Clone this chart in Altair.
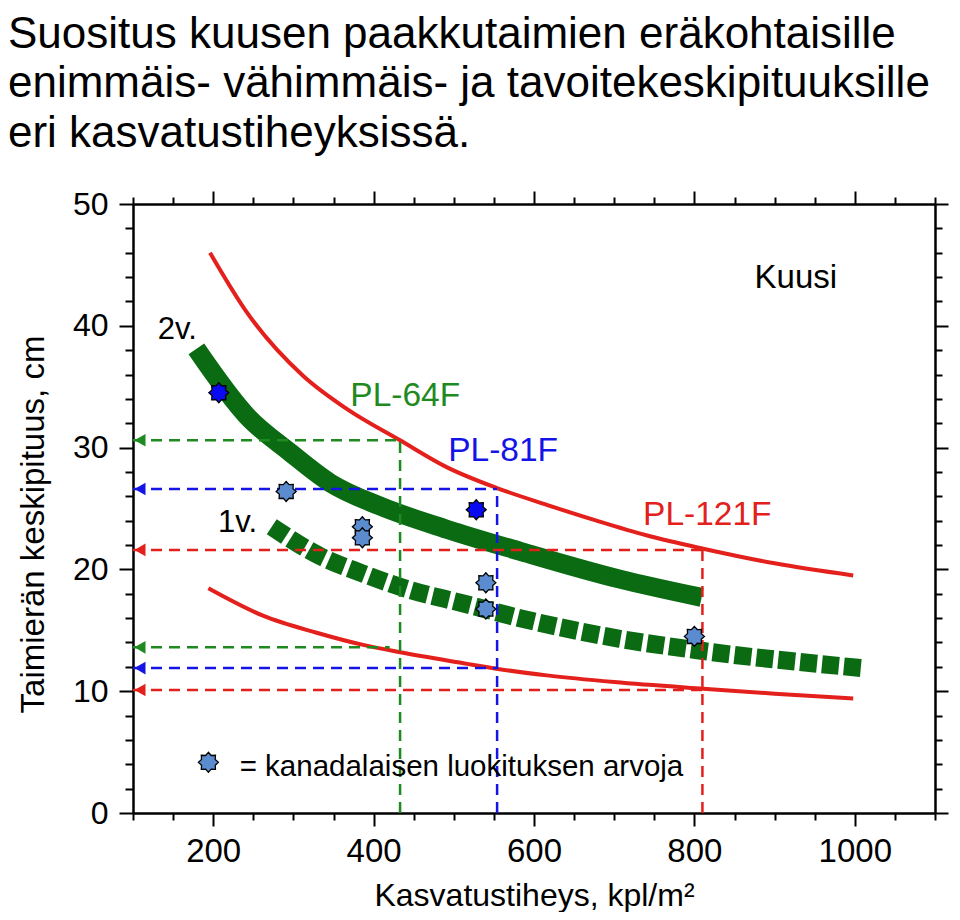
import math
import altair as alt
import pandas as pd

# ---------------- data ----------------
title_lines = [
    "Suositus kuusen paakkutaimien eräkohtaisille",
    "enimmäis- vähimmäis- ja tavoitekeskipituuksille",
    "eri kasvatustiheyksissä.",
]

# red limit curves (max / min)
upper_x = [196, 242, 312, 366, 433, 491, 553, 616, 678, 740, 811, 900, 998]
upper_y = [46.0, 41.1, 35.9, 33.2, 30.6, 28.4, 26.7, 25.3, 24.0, 22.8, 21.7, 20.5, 19.5]
lower_x = [194, 262, 329, 387, 433, 512, 553, 616, 700, 811, 900, 998]
lower_y = [18.45, 16.2, 14.8, 13.8, 13.2, 12.3, 11.85, 11.3, 10.75, 10.2, 9.8, 9.4]

# green target bands: 2-year (solid) and 1-year (dashed)
band2_x = [179, 242, 296, 346, 408, 491, 582, 707, 809]
band2_y = [38.1, 32.6, 29.6, 27.1, 25.2, 23.3, 21.5, 19.2, 17.7]
band1_x = [273, 333, 385, 441, 512, 595, 707, 811, 1009]
band1_y = [23.5, 21.1, 19.7, 18.4, 17.2, 15.8, 14.3, 13.3, 11.9]

# tray types with their densities and max / min heights
ref_names = ["PL-64F", "PL-81F", "PL-121F"]
ref_density = [433, 554, 810]
ref_max = [30.6, 26.6, 21.6]
ref_min = [13.6, 11.9, 10.1]
ref_min_end = [420, 554, 810]
ref_label_x = [371, 493, 736]
ref_label_y = [33.4, 28.9, 23.65]

# Canadian classification values
pt_x = [207, 528, 291, 386, 386, 540, 540, 800]
pt_y = [34.5, 24.9, 26.4, 23.5, 22.6, 18.9, 16.75, 14.5]
pt_kind = ["a", "a", "b", "b", "b", "b", "b", "b"]

# legend entry inside plot
legend_pt_x = [194]
legend_pt_y = [4.16]
legend_text = ["= kanadalaisen luokituksen arvoja"]
legend_text_x = [233]
legend_text_y = [3.06]

# other annotations
note_text = ["2v.", "1v."]
note_x = [131, 206]
note_y = [38.9, 23.1]
kuusi_text = ["Kuusi"]
kuusi_x = [875]
kuusi_y = [43.1]

x_ticks = list(range(100, 1101, 50))
y_ticks = list(range(0, 51, 2))

x_title = "Kasvatustiheys, kpl/m²"
y_title = "Taimierän keskipituus, cm"

# ---------------- tables ----------------
curves = pd.DataFrame(
    [{"curve": "upper", "x": a, "y": b} for a, b in zip(upper_x, upper_y)]
    + [{"curve": "lower", "x": a, "y": b} for a, b in zip(lower_x, lower_y)]
)
band2 = pd.DataFrame({"x": band2_x, "y": band2_y})
band1 = pd.DataFrame({"x": band1_x, "y": band1_y})

refs = pd.DataFrame({
    "name": ref_names, "dens": ref_density, "ymax": ref_max, "ymin": ref_min,
    "minend": ref_min_end, "lx": ref_label_x, "ly": ref_label_y,
})
refs["zero"] = 0

horiz = pd.concat([
    pd.DataFrame({"name": ref_names, "y": ref_max, "xend": ref_density}),
    pd.DataFrame({"name": ref_names, "y": ref_min, "xend": ref_min_end}),
], ignore_index=True)
horiz["left"] = x_ticks[0]

points = pd.DataFrame({"x": pt_x, "y": pt_y, "kind": pt_kind})
legend_pt = pd.DataFrame({"x": legend_pt_x, "y": legend_pt_y, "kind": ["b"]})
legend_lbl = pd.DataFrame({"x": legend_text_x, "y": legend_text_y, "t": legend_text})
notes = pd.DataFrame({"x": note_x, "y": note_y, "t": note_text})
kuusi = pd.DataFrame({"x": kuusi_x, "y": kuusi_y, "t": kuusi_text})

# ---------------- style ----------------
FONT = "Liberation Sans"
RED = "#e3201b"
GREEN = "#0b6b12"
ref_colors = ["#1f8a1f", "#1414e6", "#e3201b"]
ref_scale = alt.Scale(domain=ref_names, range=ref_colors)

xs = alt.Scale(domain=[100, 1100], nice=False, zero=False)
ys = alt.Scale(domain=[0, 50], nice=False, zero=False)

# 8-pointed star path in unit coordinates
pts = []
for i in range(16):
    r = 1.0 if i % 2 == 0 else 0.74
    a = math.pi / 2 + i * math.pi / 8
    pts.append((r * math.cos(a), -r * math.sin(a)))
STAR = "M" + " L".join(f"{px:.3f},{py:.3f}" for px, py in pts) + " Z"

tick_common = dict(
    domainColor="black", domainWidth=2.5, tickColor="black", tickWidth=2,
    labelFont=FONT, labelColor="black", titleFont=FONT,
    titleColor="black", titleFontWeight="normal",
    labelOverlap=False, grid=False,
)
maj_x = "datum.value % 200 === 0"
maj_y = "datum.value % 10 === 0"

x_bottom = alt.Axis(
    orient="bottom", values=x_ticks, title=x_title, format="d",
    labelExpr=f"{maj_x} ? datum.label : ''", labelFontSize=33,
    tickSize={"condition": {"test": maj_x, "value": 13}, "value": 7},
    labelPadding=9, titleY=92, titleBaseline="alphabetic", titleAnchor="middle",
    titleFontSize=32,
    **tick_common,
)
x_top = alt.Axis(
    orient="top", values=x_ticks, labels=False, title=None,
    tickSize={"condition": {"test": maj_x, "value": 13}, "value": 7},
    **tick_common,
)
y_left = alt.Axis(
    orient="left", values=y_ticks, title=y_title,
    labelExpr=f"{maj_y} ? datum.label : ''", labelFontSize=32,
    tickSize={"condition": {"test": maj_y, "value": 14}, "value": 8},
    labelPadding=11, titleX=-90, titleY=320, titleAngle=270,
    titleBaseline="alphabetic", titleAlign="center", titleFontSize=33,
    **tick_common,
)
y_right = alt.Axis(
    orient="right", values=y_ticks, labels=False, title=None,
    tickSize={"condition": {"test": maj_y, "value": 13}, "value": 7},
    **tick_common,
)

# ---------------- layers ----------------
red_lines = alt.Chart(curves).mark_line(
    color=RED, strokeWidth=4, interpolate="monotone"
).encode(
    x=alt.X("x:Q", scale=xs, axis=x_bottom),
    y=alt.Y("y:Q", scale=ys, axis=y_left),
    detail="curve:N",
)

band2_line = alt.Chart(band2).mark_line(
    color=GREEN, strokeWidth=19, interpolate="monotone", strokeCap="butt"
).encode(
    x=alt.X("x:Q", scale=xs, axis=None),
    y=alt.Y("y:Q", scale=ys, axis=None),
)

band1_line = alt.Chart(band1).mark_line(
    color=GREEN, strokeWidth=18, interpolate="monotone", strokeCap="butt",
    strokeDash=[17, 5],
).encode(
    x=alt.X("x:Q", scale=xs, axis=None),
    y=alt.Y("y:Q", scale=ys, axis=None),
)

vert = alt.Chart(refs).mark_rule(strokeWidth=2.5, strokeDash=[11, 7]).encode(
    x=alt.X("dens:Q", scale=xs, axis=None),
    y=alt.Y("zero:Q", scale=ys, axis=None),
    y2="ymax:Q",
    color=alt.Color("name:N", scale=ref_scale, legend=None),
)

hor = alt.Chart(horiz).mark_rule(strokeWidth=2.5, strokeDash=[11, 7]).encode(
    x=alt.X("left:Q", scale=xs, axis=None),
    x2="xend:Q",
    y=alt.Y("y:Q", scale=ys, axis=None),
    color=alt.Color("name:N", scale=ref_scale, legend=None),
)

arrows = alt.Chart(horiz).mark_point(
    shape="triangle-left", filled=True, size=160, opacity=1, xOffset=7
).encode(
    x=alt.X("left:Q", scale=xs, axis=None),
    y=alt.Y("y:Q", scale=ys, axis=None),
    color=alt.Color("name:N", scale=ref_scale, legend=None),
)

pt_scale = alt.Scale(domain=["a", "b"], range=["#0a0af0", "#5b8cd0"])
stars = alt.Chart(points).mark_point(
    shape=STAR, filled=True, size=400, stroke="black", strokeWidth=1.3, opacity=1
).encode(
    x=alt.X("x:Q", scale=xs, axis=x_top),
    y=alt.Y("y:Q", scale=ys, axis=y_right),
    fill=alt.Fill("kind:N", scale=pt_scale, legend=None),
)

legend_star = alt.Chart(legend_pt).mark_point(
    shape=STAR, filled=True, size=400, stroke="black", strokeWidth=1.3, opacity=1
).encode(
    x=alt.X("x:Q", scale=xs, axis=None),
    y=alt.Y("y:Q", scale=ys, axis=None),
    fill=alt.Fill("kind:N", scale=pt_scale, legend=None),
)

legend_txt = alt.Chart(legend_lbl).mark_text(
    font=FONT, fontSize=29.5, align="left", baseline="alphabetic", color="black"
).encode(
    x=alt.X("x:Q", scale=xs, axis=None),
    y=alt.Y("y:Q", scale=ys, axis=None),
    text="t:N",
)

note_txt = alt.Chart(notes).mark_text(
    font=FONT, fontSize=31, align="left", baseline="alphabetic", color="black"
).encode(
    x=alt.X("x:Q", scale=xs, axis=None),
    y=alt.Y("y:Q", scale=ys, axis=None),
    text="t:N",
)

kuusi_txt = alt.Chart(kuusi).mark_text(
    font=FONT, fontSize=33, align="left", baseline="alphabetic", color="black"
).encode(
    x=alt.X("x:Q", scale=xs, axis=None),
    y=alt.Y("y:Q", scale=ys, axis=None),
    text="t:N",
)

ref_txt = alt.Chart(refs).mark_text(
    font=FONT, fontSize=33.5, align="left", baseline="alphabetic"
).encode(
    x=alt.X("lx:Q", scale=xs, axis=None),
    y=alt.Y("ly:Q", scale=ys, axis=None),
    text="name:N",
    color=alt.Color("name:N", scale=ref_scale, legend=None),
)

chart = alt.layer(
    red_lines, band2_line, band1_line, vert, hor, arrows,
    stars, legend_star, legend_txt, note_txt, kuusi_txt, ref_txt,
).resolve_axis(
    x="independent", y="independent"
).properties(
    width=802, height=609,
    autosize=alt.AutoSizeParams(type="none"),
    padding={"left": 125, "top": 196, "right": 17, "bottom": 99},
    title=alt.TitleParams(
        text=title_lines, anchor="start", frame="group", font=FONT,
        fontSize=44, fontWeight="normal", color="black", lineHeight=49.5,
        dx=-125, offset=32.5,
    ),
).configure_view(stroke=None).configure(background="white")

chart.save("out.html", embed_options={"renderer": "svg", "actions": False})
